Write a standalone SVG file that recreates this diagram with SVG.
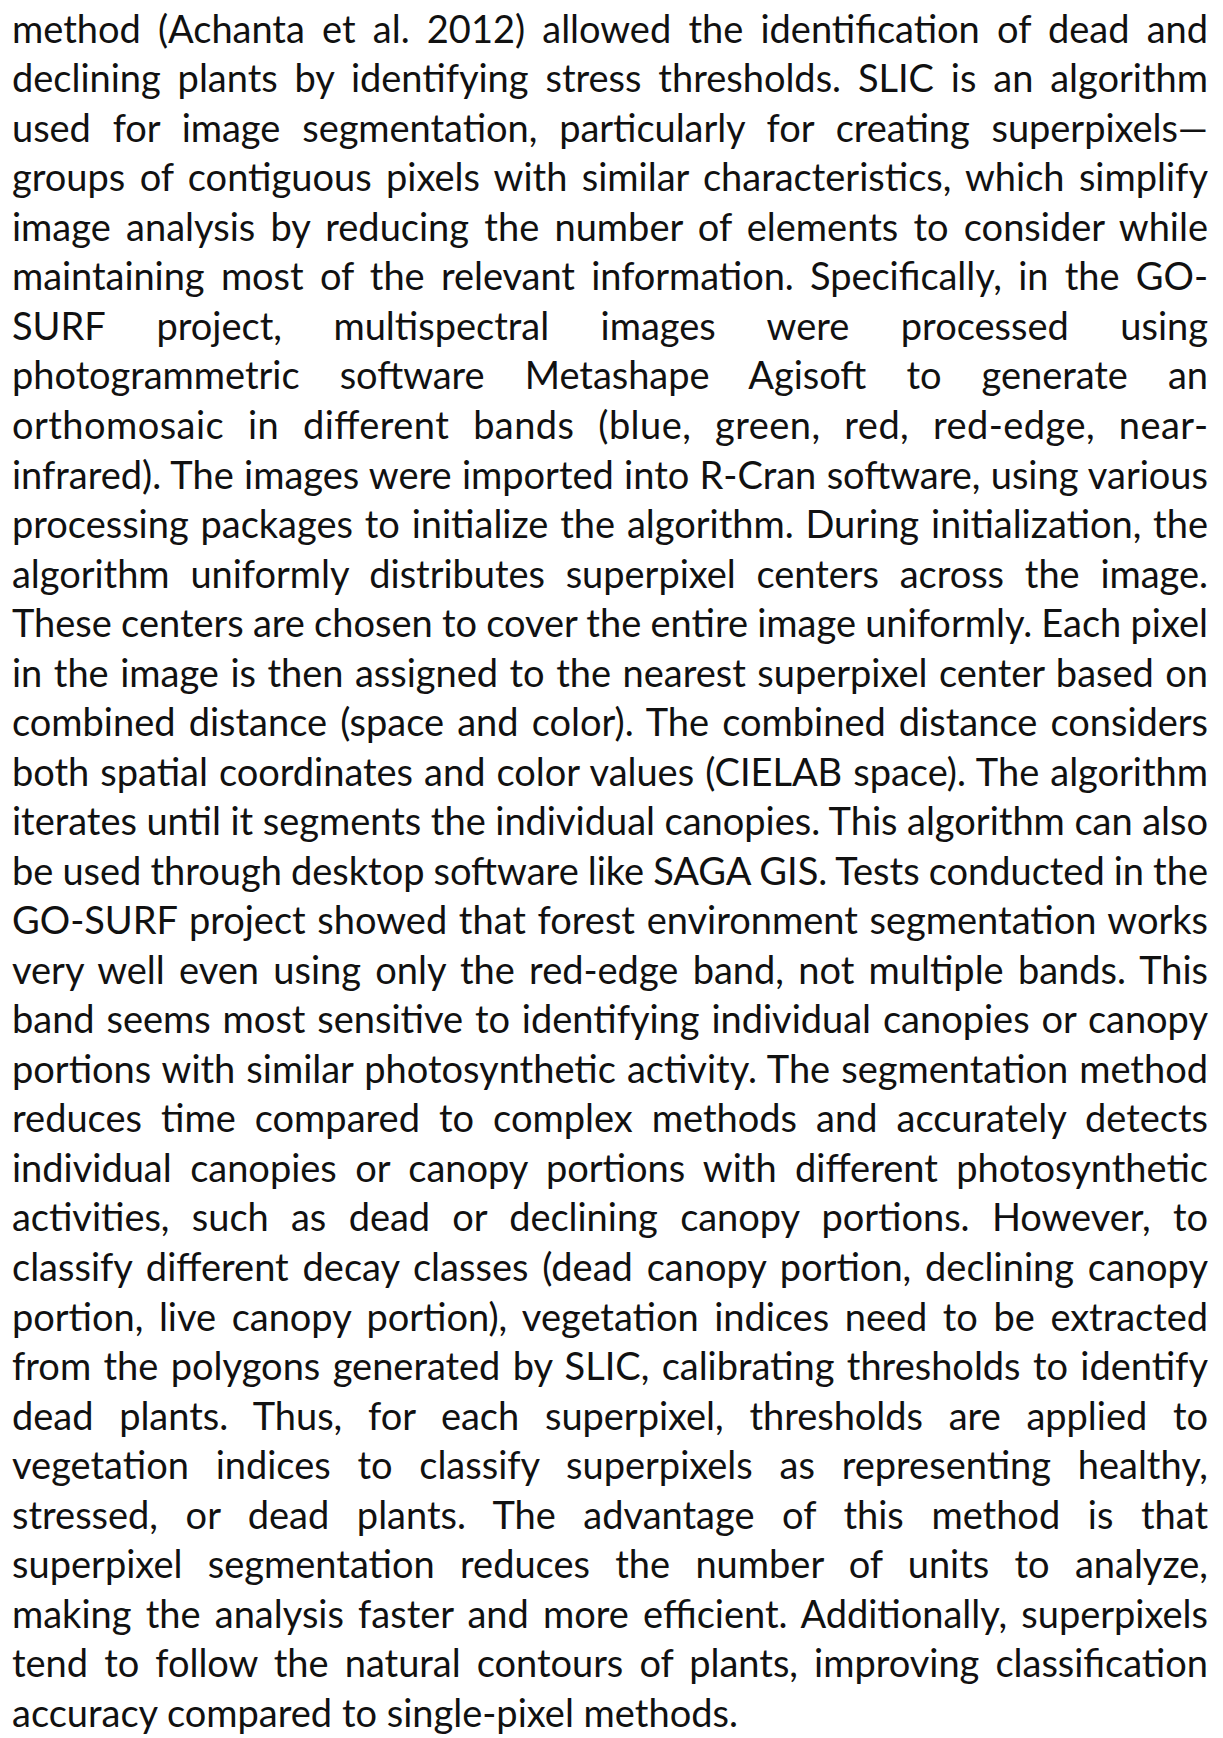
<svg xmlns="http://www.w3.org/2000/svg" width="1223" height="1738" viewBox="0 0 1223 1738">
<style>
text{font-family:Lato,"Liberation Sans",sans-serif;font-size:38px;fill:#111;}
</style>
<rect width="1223" height="1738" fill="#fff"/>
<g id="paragraph">
<text x="12" y="42.7" word-spacing="7.56" textLength="1196" lengthAdjust="spacing">method (Achanta et al. 2012) allowed the identification of dead and</text>
<text x="12" y="92.2" word-spacing="7.16" textLength="1196" lengthAdjust="spacing">declining plants by identifying stress thresholds. SLIC is an algorithm</text>
<text x="12" y="141.8" word-spacing="12.24" textLength="1196" lengthAdjust="spacing">used for image segmentation, particularly for creating superpixels—</text>
<text x="12" y="191.3" word-spacing="4.68" textLength="1196" lengthAdjust="spacing">groups of contiguous pixels with similar characteristics, which simplify</text>
<text x="12" y="240.8" word-spacing="5.54" textLength="1196" lengthAdjust="spacing">image analysis by reducing the number of elements to consider while</text>
<text x="12" y="290.4" word-spacing="6.66" textLength="1196" lengthAdjust="spacing">maintaining most of the relevant information. Specifically, in the GO-</text>
<text x="12" y="339.9" word-spacing="41.8" textLength="1196" lengthAdjust="spacing">SURF project, multispectral images were processed using</text>
<text x="12" y="389.4" word-spacing="30.4" textLength="1196" lengthAdjust="spacing">photogrammetric software Metashape Agisoft to generate an</text>
<text x="12" y="438.9" word-spacing="13.66" textLength="1196" lengthAdjust="spacing">orthomosaic in different bands (blue, green, red, red-edge, near-</text>
<text x="12" y="488.5" word-spacing="0.66" textLength="1196" lengthAdjust="spacing">infrared). The images were imported into R-Cran software, using various</text>
<text x="12" y="538.0" word-spacing="2.15" textLength="1196" lengthAdjust="spacing">processing packages to initialize the algorithm. During initialization, the</text>
<text x="12" y="587.5" word-spacing="11.1" textLength="1196" lengthAdjust="spacing">algorithm uniformly distributes superpixel centers across the image.</text>
<text x="12" y="637.1" word-spacing="-0.48" textLength="1196" lengthAdjust="spacing">These centers are chosen to cover the entire image uniformly. Each pixel</text>
<text x="12" y="686.6" word-spacing="1.8" textLength="1196" lengthAdjust="spacing">in the image is then assigned to the nearest superpixel center based on</text>
<text x="12" y="736.1" word-spacing="3.4" textLength="1196" lengthAdjust="spacing">combined distance (space and color). The combined distance considers</text>
<text x="12" y="785.7" word-spacing="1.4" textLength="1196" lengthAdjust="spacing">both spatial coordinates and color values (CIELAB space). The algorithm</text>
<text x="12" y="835.2" word-spacing="-0.2" textLength="1196" lengthAdjust="spacing">iterates until it segments the individual canopies. This algorithm can also</text>
<text x="12" y="884.7" word-spacing="-0.68" textLength="1196" lengthAdjust="spacing">be used through desktop software like SAGA GIS. Tests conducted in the</text>
<text x="12" y="934.2" word-spacing="1.96" textLength="1196" lengthAdjust="spacing">GO-SURF project showed that forest environment segmentation works</text>
<text x="12" y="983.8" word-spacing="4.63" textLength="1196" lengthAdjust="spacing">very well even using only the red-edge band, not multiple bands. This</text>
<text x="12" y="1033.3" word-spacing="2.16" textLength="1196" lengthAdjust="spacing">band seems most sensitive to identifying individual canopies or canopy</text>
<text x="12" y="1082.8" word-spacing="1.33" textLength="1196" lengthAdjust="spacing">portions with similar photosynthetic activity. The segmentation method</text>
<text x="12" y="1132.4" word-spacing="9.3" textLength="1196" lengthAdjust="spacing">reduces time compared to complex methods and accurately detects</text>
<text x="12" y="1181.9" word-spacing="8.71" textLength="1196" lengthAdjust="spacing">individual canopies or canopy portions with different photosynthetic</text>
<text x="12" y="1231.4" word-spacing="12.64" textLength="1196" lengthAdjust="spacing">activities, such as dead or declining canopy portions. However, to</text>
<text x="12" y="1281.0" word-spacing="4.11" textLength="1196" lengthAdjust="spacing">classify different decay classes (dead canopy portion, declining canopy</text>
<text x="12" y="1330.5" word-spacing="5.9" textLength="1196" lengthAdjust="spacing">portion, live canopy portion), vegetation indices need to be extracted</text>
<text x="12" y="1380.0" word-spacing="2.66" textLength="1196" lengthAdjust="spacing">from the polygons generated by SLIC, calibrating thresholds to identify</text>
<text x="12" y="1429.5" word-spacing="16.1" textLength="1196" lengthAdjust="spacing">dead plants. Thus, for each superpixel, thresholds are applied to</text>
<text x="12" y="1479.1" word-spacing="17.06" textLength="1196" lengthAdjust="spacing">vegetation indices to classify superpixels as representing healthy,</text>
<text x="12" y="1528.6" word-spacing="17.9" textLength="1196" lengthAdjust="spacing">stressed, or dead plants. The advantage of this method is that</text>
<text x="12" y="1578.1" word-spacing="15.5" textLength="1196" lengthAdjust="spacing">superpixel segmentation reduces the number of units to analyze,</text>
<text x="12" y="1627.7" word-spacing="4.5" textLength="1196" lengthAdjust="spacing">making the analysis faster and more efficient. Additionally, superpixels</text>
<text x="12" y="1677.2" word-spacing="6.4" textLength="1196" lengthAdjust="spacing">tend to follow the natural contours of plants, improving classification</text>
<text x="12" y="1726.7">accuracy compared to single-pixel methods.</text>
</g>
</svg>
